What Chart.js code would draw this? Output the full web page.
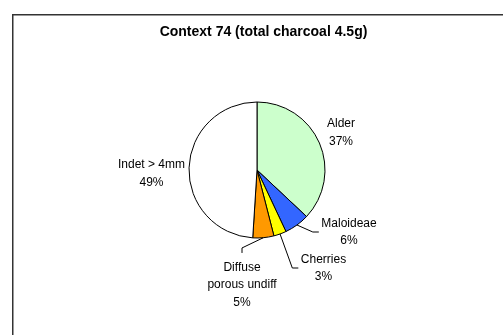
<!DOCTYPE html>
<html>
<head>
<meta charset="utf-8">
<script src="https://cdn.jsdelivr.net/npm/chart.js@4/dist/chart.umd.min.js"></script>
<style>
  html, body { margin: 0; padding: 0; background: #fff; }
  canvas { display: block; }
</style>
</head>
<body>
<canvas id="chart" width="503" height="335"></canvas>
<script>
// Charcoal composition of context 74, as percentages of the total
const titleText = 'Context 74 (total charcoal 4.5g)';
const categories = ['Alder', 'Maloideae', 'Cherries', 'Diffuse\nporous undiff', 'Indet > 4mm'];
const percentages = [37, 6, 3, 5, 49];
const sliceColors = ['#CCFFCC', '#3366FF', '#FFFF00', '#FF9900', '#FFFFFF'];

// Where each label block sits, relative to the pie centre, and how its leader attaches
const labelLayout = [
  { dx: 84,    dy: -37.5, leader: null },
  { dx: 92,    dy: 62,    leader: 'left' },
  { dx: 66.5,  dy: 98,    leader: 'left' },
  { dx: -15,   dy: 114.7, leader: 'top' },
  { dx: -105.5, dy: 3.5,  leader: null }
];

const FONT = '"Liberation Sans", Arial, sans-serif';
const LINE_H = 17.5;

const frameAndLabels = {
  id: 'frameAndLabels',
  beforeDraw(chart) {
    const ctx = chart.ctx;
    ctx.save();
    ctx.fillStyle = '#fff';
    ctx.fillRect(0, 0, chart.width, chart.height);
    // outer chart frame
    ctx.strokeStyle = '#333';
    ctx.lineWidth = 1.5;
    ctx.beginPath();
    ctx.moveTo(12.75, chart.height + 2);
    ctx.lineTo(12.75, 14.75);
    ctx.lineTo(chart.width + 2, 14.75);
    ctx.stroke();
    // title
    ctx.fillStyle = '#000';
    ctx.font = 'bold 14px ' + FONT;
    ctx.textAlign = 'center';
    ctx.textBaseline = 'middle';
    ctx.fillText(titleText, 263.5, 32.5);
    ctx.restore();
  },
  afterDatasetsDraw(chart) {
    const ctx = chart.ctx;
    const meta = chart.getDatasetMeta(0);
    const values = chart.data.datasets[0].data;
    ctx.save();
    ctx.font = '12px ' + FONT;
    ctx.fillStyle = '#000';
    ctx.strokeStyle = '#000';
    ctx.lineWidth = 1;
    ctx.textAlign = 'center';
    ctx.textBaseline = 'middle';
    meta.data.forEach((arc, i) => {
      const lay = labelLayout[i];
      const lines = chart.data.labels[i].split('\n').concat([values[i] + '%']);
      const cx = arc.x + lay.dx;
      const cy = arc.y + lay.dy;
      const top = cy - lines.length * LINE_H / 2;
      lines.forEach((t, k) => ctx.fillText(t, cx, top + LINE_H * (k + 0.5)));

      if (lay.leader) {
        const mid = (arc.startAngle + arc.endAngle) / 2;
        const sx = arc.x + Math.cos(mid) * arc.outerRadius;
        const sy = arc.y + Math.sin(mid) * arc.outerRadius;
        const w = Math.max(...lines.map(t => ctx.measureText(t).width));
        ctx.beginPath();
        ctx.moveTo(sx, sy);
        if (lay.leader === 'left') {
          const lx = cx - w / 2;
          ctx.lineTo(lx - 8.5, cy);
          ctx.lineTo(lx - 2.5, cy);
        } else {
          ctx.lineTo(cx, top - 10.5);
          ctx.lineTo(cx, top - 5.5);
        }
        ctx.stroke();
      }
    });
    ctx.restore();
  }
};

new Chart(document.getElementById('chart'), {
  type: 'pie',
  data: {
    labels: categories,
    datasets: [{
      data: percentages,
      backgroundColor: sliceColors,
      borderColor: '#000',
      borderWidth: 1
    }]
  },
  options: {
    responsive: false,
    animation: false,
    radius: 68,
    layout: { padding: { left: 111, right: 100, top: 55, bottom: 50 } },
    plugins: {
      legend: { display: false },
      tooltip: { enabled: false },
      title: { display: false }
    }
  },
  plugins: [frameAndLabels]
});
</script>
</body>
</html>
